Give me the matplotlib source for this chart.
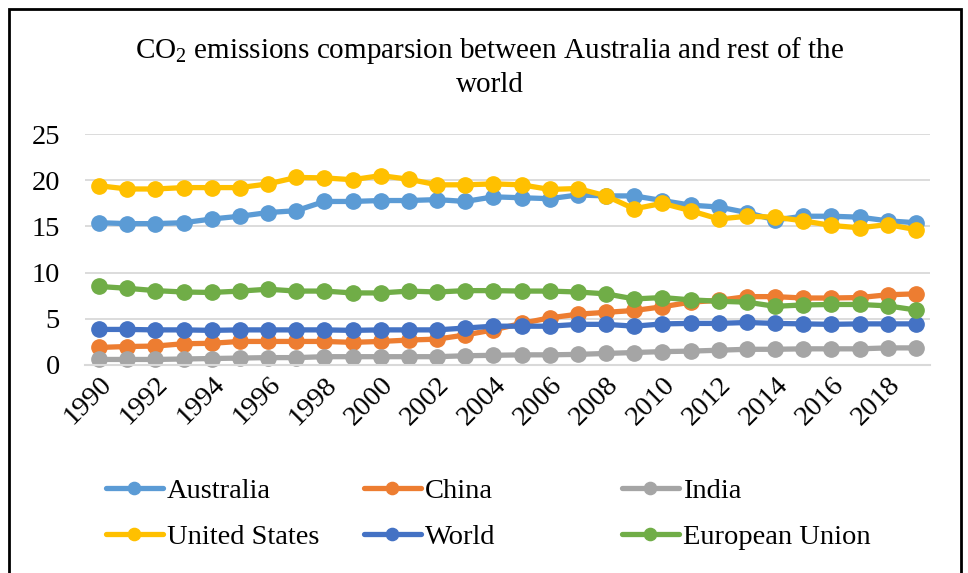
import matplotlib
matplotlib.use("Agg")
import matplotlib.pyplot as plt
import matplotlib.patches as mpatches
import numpy as np

# ── data ─────────────────────────────────────────────────────────────────────
years = list(range(1990, 2020))

australia = [15.4, 15.3, 15.3, 15.4, 15.8, 16.1, 16.5, 16.7, 17.7, 17.7,
             17.8, 17.8, 17.9, 17.7, 18.2, 18.1, 18.0, 18.4, 18.3, 18.3,
             17.8, 17.3, 17.1, 16.5, 15.7, 16.1, 16.1, 16.0, 15.6, 15.4]
china = [1.9, 2.0, 2.05, 2.3, 2.35, 2.55, 2.55, 2.55, 2.55, 2.45,
         2.55, 2.7, 2.8, 3.25, 3.8, 4.5, 5.1, 5.5, 5.7, 5.9,
         6.3, 6.8, 7.0, 7.4, 7.4, 7.25, 7.25, 7.3, 7.6, 7.7]
india = [0.6, 0.6, 0.6, 0.65, 0.7, 0.75, 0.8, 0.8, 0.9, 0.9,
         0.9, 0.9, 0.9, 1.0, 1.05, 1.1, 1.1, 1.15, 1.25, 1.35,
         1.45, 1.5, 1.6, 1.7, 1.7, 1.75, 1.75, 1.75, 1.85, 1.85]
united_states = [19.4, 19.05, 19.05, 19.2, 19.2, 19.2, 19.6, 20.3, 20.25, 20.05,
                 20.5, 20.1, 19.5, 19.5, 19.6, 19.5, 19.0, 19.1, 18.3, 16.9,
                 17.5, 16.7, 15.8, 16.1, 16.0, 15.6, 15.1, 14.85, 15.2, 14.65]
world = [3.85, 3.85, 3.8, 3.8, 3.75, 3.8, 3.8, 3.8, 3.8, 3.75,
         3.8, 3.8, 3.8, 4.0, 4.2, 4.2, 4.2, 4.4, 4.4, 4.2,
         4.45, 4.5, 4.5, 4.6, 4.5, 4.45, 4.4, 4.45, 4.45, 4.45]
european_union = [8.5, 8.3, 8.05, 7.9, 7.85, 8.0, 8.2, 8.0, 8.0, 7.8,
                  7.8, 8.0, 7.9, 8.05, 8.05, 8.0, 8.0, 7.9, 7.7, 7.15,
                  7.3, 7.05, 6.9, 6.8, 6.35, 6.5, 6.55, 6.55, 6.4, 5.95]

series = [
    ("Australia",      australia,      "#5B9BD5"),
    ("China",          china,          "#ED7D31"),
    ("India",          india,          "#A5A5A5"),
    ("United States",  united_states,  "#FFC000"),
    ("World",          world,          "#4472C4"),
    ("European Union", european_union, "#70AD47"),
]

# ── style ────────────────────────────────────────────────────────────────────
plt.rcParams["font.family"] = ["Liberation Serif", "DejaVu Serif"]
plt.rcParams["mathtext.fontset"] = "custom"
plt.rcParams["mathtext.rm"] = "Liberation Serif"
plt.rcParams["mathtext.it"] = "Liberation Serif:italic"

_GRID = "#D9D9D9"

fig = plt.figure(figsize=(9.68, 5.73), dpi=100)
ax = fig.add_axes([85 / 968, 1 - 365 / 573, 845 / 968, 231 / 573])

lines = {}
for name, vals, col in series:
    (ln,) = ax.plot(years, vals, color=col, lw=3.8, marker="o", ms=11,
                    solid_capstyle="round", label=name, clip_on=False)
    lines[name] = ln

ax.set_xlim(1989.5, 2019.5)
ax.set_ylim(0, 25)
ax.set_yticks(np.arange(0, 26, 5))
ax.set_xticks(years[::2])
ax.set_xticklabels([str(y) for y in years[::2]], rotation=45, ha="right",
                   rotation_mode="anchor")
ax.tick_params(axis="both", length=0, labelsize=20.5)
ax.tick_params(axis="y", pad=18)
ax.tick_params(axis="x", pad=5)

ax.grid(axis="y", color=_GRID, lw=1.3)
ax.set_axisbelow(True)
for s in ("top", "right", "left"):
    ax.spines[s].set_visible(False)
ax.spines["bottom"].set_color(_GRID)
ax.spines["bottom"].set_linewidth(1.5)

# title
fig.text(490 / 968, 1 - 67 / 573,
         "CO$_\\mathrm{2}$ emissions comparsion between Australia and rest of the\nworld",
         ha="center", va="center", fontsize=21, linespacing=1.3)

# legend: three equal-width columns like Excel
cols = [("Australia", "United States"), ("China", "World"), ("India", "European Union")]
col_x = [106, 364, 622]
for (a, b), x in zip(cols, col_x):
    leg = fig.legend(handles=[lines[a], lines[b]], labels=[a, b],
                     loc="upper left", bbox_to_anchor=(x / 968, 1 - 478 / 573),
                     frameon=False, fontsize=20.5, borderpad=0, borderaxespad=0,
                     handlelength=2.0, handletextpad=0.15, labelspacing=0.72,
                     markerscale=0.8)
    for h in leg.legend_handles:
        h.set_linewidth(3.8)

# outer border
fig.add_artist(mpatches.Rectangle((9 / 968, -0.02), 952 / 968, 1.02 - 9 / 573,
                                  transform=fig.transFigure, fill=False,
                                  edgecolor="black", lw=2))

fig.savefig("out.png", dpi=100)
